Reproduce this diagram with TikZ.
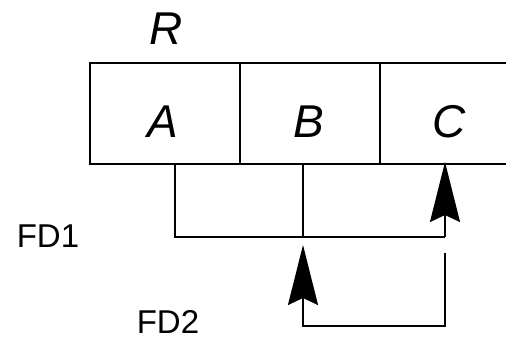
\documentclass[tikz,border=0pt]{standalone}
\usepackage{fontspec}
\setmainfont{Liberation Sans}
\usetikzlibrary{arrows.meta,calc}
\begin{document}
\begin{tikzpicture}[x=1pt,y=-1pt,
  cell/.style={draw, line width=1.8pt, minimum height=101pt, inner sep=0pt, outer sep=0pt, anchor=north west},
  big/.style={font=\fontsize{46}{46}\selectfont\itshape, inner sep=0pt},
  fd/.style={font=\fontsize{33}{33}\selectfont, inner sep=0pt},
  conn/.style={line width=1.8pt},
  tip/.style={-{Stealth[length=60pt,width=30pt,inset=7pt]}}]
\useasboundingbox (0,0) rectangle (506,340);
\clip (0,0) rectangle (506,340);
\node[cell, minimum width=150pt] (cellA) at (90,63) {};
\node[cell, minimum width=140pt] (cellB) at (240,63) {};
\node[cell, minimum width=140pt] (cellC) at (380,63) {};
\node[big] (R) at (166,29) {R};
\node[big] (A) at (163,122) {A};
\node[big] (B) at (309,122) {B};
\node[big] (C) at (449,122) {C};
\node[fd] (FD1) at (48,236) {FD1};
\node[fd] (FD2) at (168,322) {FD2};
\coordinate (j1) at (445,237);
\coordinate (jb) at (303,237);
\coordinate (s2) at (445,253);
\coordinate (c2) at (303,326);
\coordinate (t2) at (303,245);
\draw[conn] ([xshift=10pt]cellA.south) |- (j1);
\draw[conn] ([xshift=-7pt]cellB.south) -- (jb);
\draw[conn,tip] (j1) -- ([xshift=-5pt,yshift=2pt]cellC.south);
\draw[conn,tip] (s2) |- (c2) -- (t2);
\end{tikzpicture}
\end{document}
